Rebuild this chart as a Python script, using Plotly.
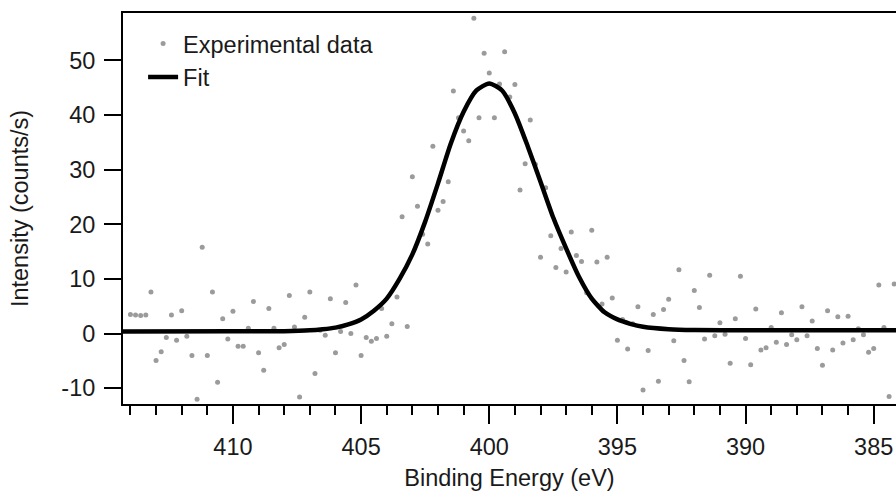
import plotly.graph_objects as go

# Experimental data: binding energy (eV) from 414.0 down in 0.2 eV steps
energy_start = 414.0
energy_step = 0.2
intensity = [
    3.5, 3.4, 3.3, 3.4, 7.6, -4.9, -3.3, -0.7, 3.4, -1.2,
    4.2, -0.5, -4.0, -12.0, 15.8, -4.0, 7.6, -8.9, 2.7, -1.0,
    4.1, -2.3, -2.3, 1.0, 5.9, -3.5, -6.7, 4.6, 1.0, -2.6,
    -2.0, 7.0, 1.2, -11.6, 3.0, 7.6, -7.3, 0.6, -0.3, 6.4,
    -3.5, 0.4, 5.7, 0.0, 8.9, -4.0, -0.7, -1.4, -0.9, 4.6,
    -0.5, 1.8, 6.7, 21.4, 1.3, 28.7, 23.3, 18.2, 16.4, 34.3,
    22.6, 24.2, 27.8, 44.4, 39.5, 37.1, 35.3, 57.7, 39.5, 51.3,
    47.7, 39.5, 45.7, 51.6, 43.3, 45.6, 26.3, 31.1, 39.1, 31.0,
    14.0, 26.7, 17.9, 12.1, 15.6, 11.3, 18.6, 14.3, 13.2, 7.5,
    18.9, 13.1, 5.4, 14.0, 6.5, -1.2, 2.6, -2.8, 1.8, 4.9,
    -10.3, -3.1, 3.5, -8.7, 4.4, 6.3, -1.3, 11.7, -4.9, -8.8,
    7.9, 4.8, -1.0, 10.7, -0.4, 2.0, -0.1, -5.4, 2.7, 10.5,
    -0.9, -5.7, 4.5, -3.0, -2.6, 1.1, -1.6, 3.8, -2.0, -0.2,
    -1.1, 4.9, -0.4, 2.3, -2.7, -5.8, 4.2, -3.0, 3.1, -1.7,
    3.2, -1.1, 0.9, -0.2, -3.4, -2.7, 8.9, 1.1, -11.5, 9.1,
    -3.5,
]
energy = [round(energy_start - energy_step * i, 2) for i in range(len(intensity))]

# Fit curve
fit_energy = [414.3, 410.0, 408.0, 407.0, 406.5, 406.0, 405.5, 405.0, 404.5, 404.0,
              403.5, 403.0, 402.5, 402.0, 401.5, 401.0, 400.5, 400.0, 399.5, 399.0,
              398.5, 398.0, 397.5, 397.0, 396.5, 396.0, 395.5, 395.0, 394.5, 394.0,
              393.0, 392.0, 390.0, 384.0]
fit_intensity = [0.4, 0.42, 0.45, 0.6, 0.8, 1.1, 1.7, 2.6, 4.2, 6.4,
                 10.0, 14.5, 20.5, 27.5, 34.8, 40.6, 44.5, 45.8, 44.5, 40.3,
                 34.3, 27.8, 21.2, 15.6, 10.4, 6.4, 3.9, 2.6, 1.8, 1.25,
                 0.8, 0.65, 0.6, 0.6]

x_ticks = [410, 405, 400, 395, 390, 385]
y_ticks = [-10, 0, 10, 20, 30, 40, 50]

FONT = "Liberation Sans, Arial, sans-serif"
TXT = "#1a1a1a"
FS = 23.5

fig = go.Figure()
fig.add_trace(go.Scatter(
    x=energy, y=intensity, mode="markers", name="Experimental data",
    marker=dict(size=5, color="#9b9b9b", line=dict(width=0)),
))
fig.add_trace(go.Scatter(
    x=fit_energy, y=fit_intensity, mode="lines", name="Fit",
    line=dict(color="black", width=4.5, shape="spline", smoothing=0.6),
))

fig.update_layout(
    width=896, height=491,
    margin=dict(l=123, r=0, t=13, b=87),
    paper_bgcolor="white", plot_bgcolor="white",
    font=dict(family=FONT, size=FS, color=TXT),
    showlegend=True,
    legend=dict(x=0.026, y=0.978, xanchor="left", yanchor="top",
                bgcolor="rgba(0,0,0,0)", font=dict(size=FS, family=FONT, color=TXT),
                tracegroupgap=0, itemwidth=30),
)
fig.update_xaxes(
    range=[414.29, 384.13], autorange=False,
    tickmode="array", tickvals=x_ticks, ticktext=[str(v) for v in x_ticks],
    ticks="outside", ticklen=18, tickwidth=2, tickcolor="black",
    minor=dict(dtick=1, tick0=385, ticks="outside", ticklen=9, tickwidth=2, tickcolor="black", showgrid=False),
    showline=True, linecolor="black", linewidth=2, mirror=True,
    showgrid=False, zeroline=False,
    tickfont=dict(size=FS, family=FONT, color=TXT),
    ticklabelstandoff=3,
    title=dict(text="Binding Energy (eV)", font=dict(size=FS, family=FONT, color=TXT), standoff=13),
)
fig.update_yaxes(
    range=[-12.88, 58.68], autorange=False,
    tickmode="array", tickvals=y_ticks, ticktext=[str(v) for v in y_ticks],
    ticks="outside", ticklen=17, tickwidth=2, tickcolor="black",
    showline=True, linecolor="black", linewidth=2, mirror=False,
    showgrid=False, zeroline=False,
    tickfont=dict(size=FS, family=FONT, color=TXT),
    ticklabelstandoff=4,
    title=dict(text="Intensity (counts/s)", font=dict(size=FS, family=FONT, color=TXT), standoff=26),
)

fig.write_html("out.html")
